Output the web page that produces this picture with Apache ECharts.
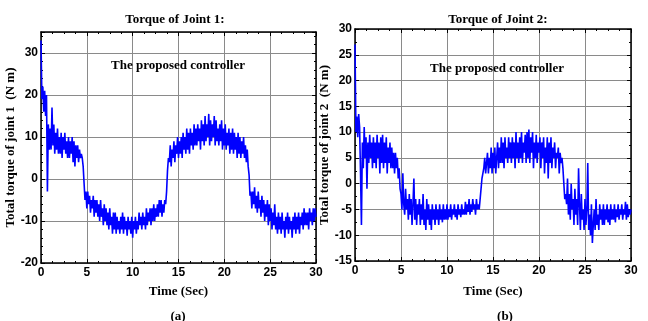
<!DOCTYPE html>
<html>
<head>
<meta charset="utf-8">
<script src="https://cdn.jsdelivr.net/npm/echarts@6/dist/echarts.min.js"></script>
<style>
  html, body {margin: 0; padding: 0; background: #fff;}
  #chart {width: 648px; height: 321px;}
</style>
</head>
<body>
<div id="chart"></div>
<script>
// sampling step of the recorded torque (sec)
const SAMPLE_STEP = 0.1;

// torque of joint 1 (N m), one row per second
const torque1 = [
  33, 19, 22, 16, 21, 15, 20, -3, 13, 7,
  12, 7, 17, 8, 13, 6, 11, 7, 12, 6,
  10, 6, 11, 5, 10, 7, 11, 6, 9, 5,
  10, 5, 9, 6, 10, 4, 9, 3, 8, 5,
  8, 4, 7, 5, 6, 5, 3, -1, -5, -3,
  -7, -3, -6, -4, -8, -5, -7, -4, -9, -5,
  -8, -5, -9, -6, -10, -5, -9, -7, -11, -6,
  -10, -7, -11, -8, -12, -7, -11, -9, -13, -8,
  -12, -8, -13, -9, -12, -10, -13, -9, -12, -8,
  -13, -9, -12, -10, -13.5, -9, -12, -10, -13, -9,
  -14, -10, -12, -9, -13, -10, -12, -8, -11, -9,
  -12, -8, -11, -9, -12, -7, -11, -8, -10, -7,
  -11, -7, -10, -6, -10, -7, -9, -6, -9, -5,
  -8, -5, -9, -6, -8, -5, -6, -3, 2, 5,
  4, 8, 3, 7, 5, 9, 4, 8, 6, 10,
  5, 9, 6, 10, 5, 11, 7, 10, 6, 12,
  7, 11, 6, 12, 8, 11, 7, 13, 8, 12,
  8, 13, 9, 12, 7, 14, 9, 13, 8, 15,
  9, 13, 10, 15.5, 8, 14, 9, 13, 10, 15,
  8, 14, 9, 12, 8, 13, 9, 14, 7, 12,
  8, 13, 7, 11, 8, 12, 6, 11, 7, 12,
  6, 11, 7, 10, 5, 11, 6, 10, 5, 9,
  6, 10, 5, 8, 4, 7, 3, 1, -4, -3,
  -7, -3, -6, -2, -7, -4, -8, -3, -7, -5,
  -9, -4, -8, -5, -10, -6, -9, -5, -11, -6,
  -10, -7, -12, -8, -11, -6, -12, -9, -13, -8,
  -12, -9, -13, -8, -12, -10, -14, -9, -12, -8,
  -13, -9, -12, -10, -14, -9, -12, -8, -13, -9,
  -12, -8, -13, -9, -11, -8, -12, -7, -11, -8,
  -11, -8, -12, -7, -10, -8, -11, -7, -10, -7,
  -9
];

// torque of joint 2 (N m), one row per second
const torque2 = [
  27, 10, 13, 9, 13.5, 11, 2, -8, 8, 3,
  11, 5, 9, -1, 8, 4, 9.5, 5, 8, 3,
  9, 4, 8, 3, 9.5, 5, 8, 2, 9, 4,
  9.5, 3, 8, 4, 9, 2, 7, 4, 8, 3,
  7, 3, 6, 2, 6, 3, 5, 1, 3, -1,
  -2, -5, 2, -4, -6, -1, -5, -3, -7, -2,
  -6, -3, -8, -4, 1, -7, -3, -8, -4, -6,
  -3, -8, -4, -7, -2, -8, -5, -9, -3, -7,
  -4, -8, -5, -9, -4, -7, -5, -8, -4, -7,
  -5, -8, -4, -7, -5, -7.5, -4, -7, -5, -7,
  -4, -7, -5, -6.5, -4, -7, -5, -6, -4, -6.5,
  -5, -7, -4, -6, -5, -6.5, -4, -6, -5, -6,
  -3.5, -6, -4, -5.5, -3, -6, -4, -5.5, -3, -5,
  -4, -6, -3, -5, -4, -5, -3, -1, 1, 2,
  3, 5, 2, 4, 6, 2, 5, 3, 7, 2,
  6, 3, 7, 2, 5, 8, 3, 7, 4, 9,
  4, 8, 3, 9, 5, 7, 4, 9, 5, 8,
  4, 9, 5, 8, 3, 10, 5, 8, 4, 9,
  5, 10, 4, 8, 6, 9.5, 4, 10, 5, 10.5,
  4, 9, 6, 10, 3, 8, 5, 9.5, 4, 8,
  6, 9, 3, 8, 5, 9, 2, 7, 4, 9,
  1, 8, 4, 9, 3, 7, 5, 8, 3, 6,
  5, 7, 2, 6, 4, 5, 3, 0, -3, -2,
  -4, 1, -6, -2, -7, 0, -5, -3, -8, -1,
  -6, -3, -8, 3, -4, -9, -2, -7, -5, -9,
  -3, -8, -5, 4, -9, -6, -10, -4, -11.5, -8,
  -5, -9, -3, -8, -6, -9, -4, -7, -5, -8,
  -4, -8, -5, -7, -4, -7.5, -5, -8, -4, -7,
  -5, -7, -4, -7.5, -5, -6.5, -4, -7, -5, -6,
  -4, -7, -5, -6, -3.5, -7, -4, -6.5, -5, -6,
  -5
];

const xTicks = {min: 0, max: 30, interval: 5};
const y1Ticks = {min: -20, max: 35, interval: 10};
const y2Ticks = {min: -15, max: 30, interval: 5};

const toPairs = arr => arr.map((v, i) => [+(i * SAMPLE_STEP).toFixed(1), v]);

const serif = 'Liberation Serif, Times New Roman, serif';
const sans = 'Liberation Sans, Arial, sans-serif';
const frame = {show: true, onZero: false, lineStyle: {color: '#000', width: 1.5}};
const tick = {show: true, inside: true, length: 4, lineStyle: {color: '#000', width: 1}};
const grid = {show: true, lineStyle: {color: '#8a8a8a', width: 1}};
const labelStyle = {color: '#000', fontFamily: sans, fontWeight: 'bold', fontSize: 12};
const nameStyle = {color: '#000', fontFamily: serif, fontWeight: 'bold', fontSize: 13};

function xAxes(gi, gap) {
  return [
    Object.assign({}, xTicks, {
      type: 'value', gridIndex: gi, position: 'bottom',
      axisLine: frame, axisTick: tick,
      minorTick: {show: true, splitNumber: 4, length: 2, lineStyle: {color: '#000'}},
      axisLabel: Object.assign({margin: 4}, labelStyle),
      splitLine: grid,
      name: 'Time (Sec)', nameLocation: 'middle', nameGap: gap, nameTextStyle: nameStyle
    }),
    Object.assign({}, xTicks, {
      type: 'value', gridIndex: gi, position: 'top',
      axisLine: frame, axisTick: tick,
      minorTick: {show: true, splitNumber: 4, length: 2, lineStyle: {color: '#000'}},
      axisLabel: {show: false}, splitLine: {show: false}
    })
  ];
}

function yAxes(gi, ticks, minor, name, gap, showMax) {
  return [
    Object.assign({}, ticks, {
      type: 'value', gridIndex: gi, position: 'left',
      axisLine: frame, axisTick: tick,
      minorTick: {show: true, splitNumber: minor, length: 2, lineStyle: {color: '#000'}},
      axisLabel: Object.assign({margin: 3, showMaxLabel: showMax}, labelStyle),
      splitLine: grid,
      name: name, nameLocation: 'middle', nameGap: gap, nameTextStyle: nameStyle
    }),
    Object.assign({}, ticks, {
      type: 'value', gridIndex: gi, position: 'right',
      axisLine: frame, axisTick: tick,
      minorTick: {show: true, splitNumber: minor, length: 2, lineStyle: {color: '#000'}},
      axisLabel: {show: false}, splitLine: {show: false}
    })
  ];
}

const txt = (text, x, y) => ({
  text: text, left: x, top: y, textAlign: 'center',
  textStyle: {fontFamily: serif, fontWeight: 'bold', fontSize: 13, color: '#000'}
});

const chart = echarts.init(document.getElementById('chart'));
chart.setOption({
  animation: false,
  backgroundColor: '#fff',
  title: [
    txt('Torque of Joint 1:', 170, 8),
    txt('Torque of Joint 2:', 493, 8),
    txt('The proposed controller', 173, 54),
    txt('The proposed controller', 492, 57),
    txt('(a)', 173, 305),
    txt('(b)', 500, 305)
  ],
  grid: [
    {left: 41, top: 32, width: 275, height: 231},
    {left: 355, top: 29, width: 276, height: 232}
  ],
  xAxis: [...xAxes(0, 22), ...xAxes(1, 24)],
  yAxis: [
    ...yAxes(0, y1Ticks, 5, 'Total torque of joint 1  (N m)', 14, false),
    ...yAxes(1, y2Ticks, 2, 'Total torque of joint 2  (N m)', 21, true)
  ],
  series: [
    {type: 'line', xAxisIndex: 0, yAxisIndex: 0, data: toPairs(torque1),
     showSymbol: false, lineStyle: {color: '#0000ff', width: 1.6}},
    {type: 'line', xAxisIndex: 2, yAxisIndex: 2, data: toPairs(torque2),
     showSymbol: false, lineStyle: {color: '#0000ff', width: 1.6}}
  ]
});
</script>
</body>
</html>
